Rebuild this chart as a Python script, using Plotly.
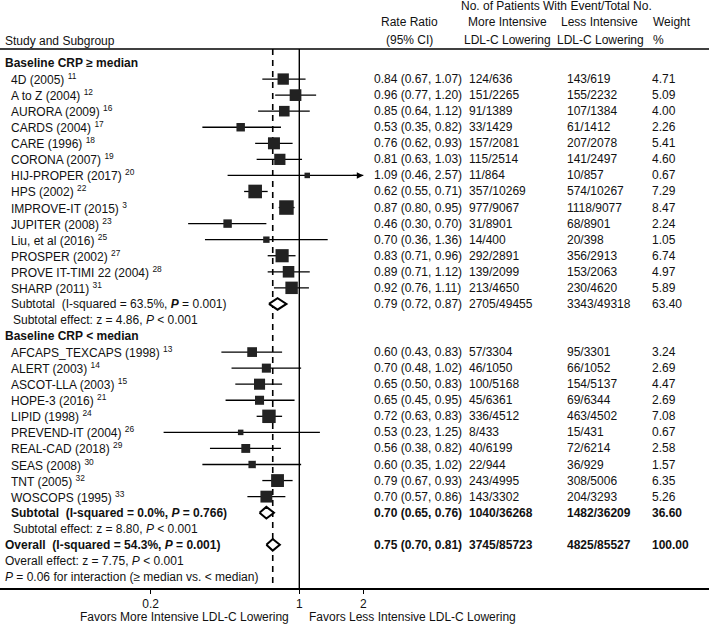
import math
import plotly.graph_objects as go

# ---------------- data ----------------
g1_names = ["4D (2005)", "A to Z (2004)", "AURORA (2009)", "CARDS (2004)", "CARE (1996)",
            "CORONA (2007)", "HIJ-PROPER (2017)", "HPS (2002)", "IMPROVE-IT (2015)",
            "JUPITER (2008)", "Liu, et al (2016)", "PROSPER (2002)",
            "PROVE IT-TIMI 22 (2004)", "SHARP (2011)"]
g1_refs = ["11", "12", "16", "17", "18", "19", "20", "22", "3", "23", "25", "27", "28", "31"]
g1_rr = [0.84, 0.96, 0.85, 0.53, 0.76, 0.81, 1.09, 0.62, 0.87, 0.46, 0.70, 0.83, 0.89, 0.92]
g1_lo = [0.67, 0.77, 0.64, 0.35, 0.62, 0.63, 0.46, 0.55, 0.80, 0.30, 0.36, 0.71, 0.71, 0.76]
g1_hi = [1.07, 1.20, 1.12, 0.82, 0.93, 1.03, 2.57, 0.71, 0.95, 0.70, 1.36, 0.96, 1.12, 1.11]
g1_more = ["124/636", "151/2265", "91/1389", "33/1429", "157/2081", "115/2514", "11/864",
           "357/10269", "977/9067", "31/8901", "14/400", "292/2891", "139/2099", "213/4650"]
g1_less = ["143/619", "155/2232", "107/1384", "61/1412", "207/2078", "141/2497", "10/857",
           "574/10267", "1118/9077", "68/8901", "20/398", "356/2913", "153/2063", "230/4620"]
g1_w = [4.71, 5.09, 4.00, 2.26, 5.41, 4.60, 0.67, 7.29, 8.47, 2.24, 1.05, 6.74, 4.97, 5.89]

g2_names = ["AFCAPS_TEXCAPS (1998)", "ALERT (2003)", "ASCOT-LLA (2003)", "HOPE-3 (2016)",
            "LIPID (1998)", "PREVEND-IT (2004)", "REAL-CAD (2018)", "SEAS (2008)",
            "TNT (2005)", "WOSCOPS (1995)"]
g2_refs = ["13", "14", "15", "21", "24", "26", "29", "30", "32", "33"]
g2_rr = [0.60, 0.70, 0.65, 0.65, 0.72, 0.53, 0.56, 0.60, 0.79, 0.70]
g2_lo = [0.43, 0.48, 0.50, 0.45, 0.63, 0.23, 0.38, 0.35, 0.67, 0.57]
g2_hi = [0.83, 1.02, 0.83, 0.95, 0.83, 1.25, 0.82, 1.02, 0.93, 0.86]
g2_more = ["57/3304", "46/1050", "100/5168", "45/6361", "336/4512", "8/433", "40/6199",
           "22/944", "243/4995", "143/3302"]
g2_less = ["95/3301", "66/1052", "154/5137", "69/6344", "463/4502", "15/431", "72/6214",
           "36/929", "308/5006", "204/3293"]
g2_w = [3.24, 2.69, 4.47, 2.69, 7.08, 0.67, 2.58, 1.57, 6.35, 5.26]

# subtotal / overall: [estimate, lo, hi]
sub1 = [0.79, 0.72, 0.87]
sub1_more, sub1_less, sub1_w = "2705/49455", "3343/49318", 63.40
sub2 = [0.70, 0.65, 0.76]
sub2_more, sub2_less, sub2_w = "1040/36268", "1482/36209", 36.60
overall = [0.75, 0.70, 0.81]
ov_more, ov_less, ov_w = "3745/85723", "4825/85527", 100.00

tick_vals = [0.2, 1, 2]
tick_text = ["0.2", "1", "2"]
x_display_max = 2  # CI lines beyond this are clipped with an arrow

# ---------------- geometry helpers ----------------
W, H = 709, 624
PLOT_BOTTOM = 588
ROW0, PITCH = 63, 16.06
X1PX, PXDEC = 299.3, 212.6


def py(px):
    return (px - ROW0) / PITCH


def xp(px):
    return px / W


FONT = "Liberation Sans, Arial, sans-serif"
TXT = "#111111"

fig = go.Figure()
ann = []


def text(x_px, y, s, anchor="left", size=12):
    ann.append(dict(x=xp(x_px), xref="paper", y=y, yref="y", text=s, showarrow=False,
                    xanchor=anchor, yanchor="middle",
                    font=dict(family=FONT, size=size, color=TXT)))


# rows
g1_rows = list(range(1, 1 + len(g1_names)))
r_sub1 = g1_rows[-1] + 1
r_sub1e = r_sub1 + 1
r_hdr2 = r_sub1e + 1
g2_rows = list(range(r_hdr2 + 1, r_hdr2 + 1 + len(g2_names)))
r_sub2 = g2_rows[-1] + 1
r_sub2e = r_sub2 + 1
r_ov = r_sub2e + 1
r_ove = r_ov + 1
r_int = r_ove + 1

all_rows = g1_rows + g2_rows
all_rr = g1_rr + g2_rr
all_lo = g1_lo + g2_lo
all_hi = g1_hi + g2_hi
all_w = g1_w + g2_w

# reference lines
y_top = py(49)
y_bot = py(PLOT_BOTTOM)
fig.add_trace(go.Scatter(x=[overall[0], overall[0]], y=[y_top, y_bot], mode="lines",
                         line=dict(color="black", width=1.6, dash="6px,5px"),
                         hoverinfo="skip", showlegend=False))
fig.add_trace(go.Scatter(x=[1, 1], y=[y_top, y_bot], mode="lines",
                         line=dict(color="black", width=1.4),
                         hoverinfo="skip", showlegend=False))

# CI lines
cx, cy = [], []
for r, lo, hi in zip(all_rows, all_lo, all_hi):
    cx += [lo, min(hi, x_display_max), None]
    cy += [r, r, None]
    if hi > x_display_max:
        ann.append(dict(x=math.log10(x_display_max), y=r, xref="x", yref="y",
                        ax=-12, ay=0, axref="pixel", ayref="pixel", text="",
                        showarrow=True, arrowhead=2, arrowsize=1, arrowwidth=1.3,
                        arrowcolor="black"))
fig.add_trace(go.Scatter(x=cx, y=cy, mode="lines", line=dict(color="black", width=1.3),
                         hoverinfo="skip", showlegend=False))

# squares
fig.add_trace(go.Scatter(x=all_rr, y=all_rows, mode="markers",
                         marker=dict(symbol="square", color="#222222", opacity=1,
                                     size=[2 + 4.3 * math.sqrt(w) for w in all_w],
                                     line=dict(width=0)),
                         hoverinfo="skip", showlegend=False))

# diamonds
for est, r in [(sub1, r_sub1), (sub2, r_sub2), (overall, r_ov)]:
    h = 0.36
    fig.add_trace(go.Scatter(x=[est[1], est[0], est[2], est[0], est[1]],
                             y=[r, r - h, r, r + h, r], mode="lines", fill="toself",
                             fillcolor="white", line=dict(color="black", width=2),
                             hoverinfo="skip", showlegend=False))


def ci_text(e):
    return f"{e[0]:.2f} ({e[1]:.2f}, {e[2]:.2f})"


# column headers
text(556, py(6), "No. of Patients With Event/Total No.", "center")
text(409, py(22), "Rate Ratio", "center")
text(409, py(40), "(95% CI)", "center")
text(507, py(22), "More Intensive", "center")
text(507, py(40), "LDL-C Lowering", "center")
text(599, py(22), "Less Intensive", "center")
text(600, py(40), "LDL-C Lowering", "center")
text(672, py(22), "Weight", "center")
text(651, py(40), "%", "left")
text(3, py(41), "Study and Subgroup", "left")

# group 1
text(3, 0, "<b>Baseline CRP ≥ median</b>")
for i, r in enumerate(g1_rows):
    text(9, r, f"{g1_names[i]} <sup>{g1_refs[i]}</sup>")
    text(372, r, ci_text([g1_rr[i], g1_lo[i], g1_hi[i]]))
    text(467, r, g1_more[i])
    text(565, r, g1_less[i])
    text(650, r, f"{g1_w[i]:.2f}")
text(9, r_sub1, "Subtotal\u00a0\u00a0(I-squared = 63.5%, <b><i>P</i></b> = 0.001)")
text(372, r_sub1, ci_text(sub1))
text(467, r_sub1, sub1_more)
text(565, r_sub1, sub1_less)
text(650, r_sub1, f"{sub1_w:.2f}")
text(11, r_sub1e, "Subtotal effect: z = 4.86, <i>P</i> &lt; 0.001")

# group 2
text(3, r_hdr2, "<b>Baseline CRP &lt; median</b>")
for i, r in enumerate(g2_rows):
    text(9, r, f"{g2_names[i]} <sup>{g2_refs[i]}</sup>")
    text(372, r, ci_text([g2_rr[i], g2_lo[i], g2_hi[i]]))
    text(467, r, g2_more[i])
    text(565, r, g2_less[i])
    text(650, r, f"{g2_w[i]:.2f}")
text(9, r_sub2, "<b>Subtotal\u00a0\u00a0(I-squared = 0.0%, <i>P</i> = 0.766)</b>")
text(372, r_sub2, "<b>" + ci_text(sub2) + "</b>")
text(467, r_sub2, f"<b>{sub2_more}</b>")
text(565, r_sub2, f"<b>{sub2_less}</b>")
text(650, r_sub2, f"<b>{sub2_w:.2f}</b>")
text(11, r_sub2e, "Subtotal effect: z = 8.80, <i>P</i> &lt; 0.001")

# overall
text(3, r_ov, "<b>Overall\u00a0\u00a0(I-squared = 54.3%, <i>P</i> = 0.001)</b>")
text(372, r_ov, "<b>" + ci_text(overall) + "</b>")
text(467, r_ov, f"<b>{ov_more}</b>")
text(565, r_ov, f"<b>{ov_less}</b>")
text(650, r_ov, f"<b>{ov_w:.2f}</b>")
text(3, r_ove, "Overall effect: z = 7.75, <i>P</i> &lt; 0.001")
text(3, r_int, "<i>P</i> = 0.06 for interaction (≥ median vs. &lt; median)")

# axis captions (below plot area -> paper coordinates)
for cx_px, s in [(184, "Favors More Intensive LDL-C Lowering"),
                 (412, "Favors Less Intensive LDL-C Lowering")]:
    ann.append(dict(x=xp(cx_px), xref="paper", y=(PLOT_BOTTOM - 616.5) / PLOT_BOTTOM,
                    yref="paper", text=s, showarrow=False, xanchor="center",
                    yanchor="middle", borderpad=0,
                    font=dict(family=FONT, size=12, color=TXT)))

fig.update_layout(
    width=W, height=H,
    margin=dict(l=0, r=0, t=0, b=H - PLOT_BOTTOM, pad=0),
    paper_bgcolor="white", plot_bgcolor="white",
    annotations=ann,
    shapes=[dict(type="line", xref="paper", x0=0, x1=1, yref="y", y0=py(49), y1=py(49),
                 line=dict(color="black", width=1.6))],
    xaxis=dict(type="log", range=[(0 - X1PX) / PXDEC, (W - X1PX) / PXDEC],
               tickvals=tick_vals, ticktext=tick_text, showgrid=False, zeroline=False,
               showline=True, linecolor="black", linewidth=1.6, ticks="outside",
               ticklen=4, tickwidth=1.4, tickcolor="black",
               tickfont=dict(family=FONT, size=12, color=TXT), fixedrange=True),
    yaxis=dict(range=[py(PLOT_BOTTOM), py(0)], visible=False, fixedrange=True),
    showlegend=False,
)

fig.write_html("out.html", config={"displayModeBar": False},
               post_script="document.body.style.margin='0';document.body.style.padding='0';")
